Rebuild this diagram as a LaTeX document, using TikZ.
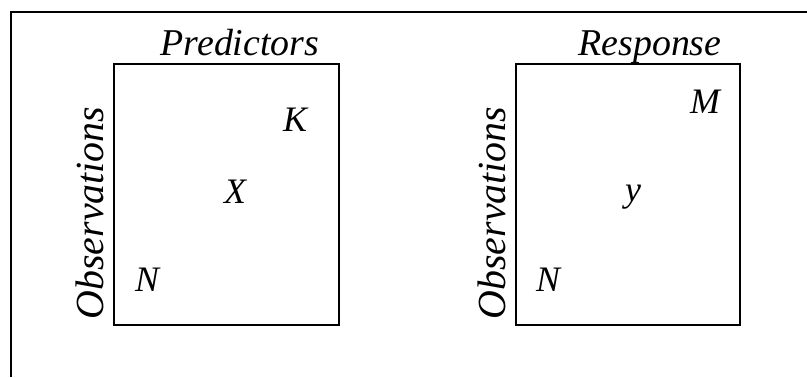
\documentclass[tikz,border=0pt]{standalone}
\usepackage{fontspec}
\setmainfont{Liberation Serif}
\tikzset{
  lbl/.style={font=\fontsize{36}{40}\selectfont\itshape, inner sep=0pt},
  ttl/.style={font=\fontsize{38}{42}\selectfont\itshape, inner sep=0pt, anchor=base},
  side/.style={font=\fontsize{40}{44}\selectfont\itshape, inner sep=0pt, rotate=90},
  mat/.style={line width=2.4pt},
  frame/.style={line width=1.6pt}
}
\begin{document}
\begin{tikzpicture}[x=1bp,y=-1bp]
            \useasboundingbox (0,0) rectangle (807,377);
            % outer frame, open at bottom and right
            \draw [frame] (11,377) -- (11,12) -- (807,12);

            % predictor matrix
            \draw [mat] (114,64) rectangle (339,325);
            \node[ttl] (P) at (240,55) {Predictors};
            \node[side] (O1) at (90,213) {Observations};
            \node[lbl] (K) at (295,120) {K};
            \node[lbl] (X) at (235,192) {X};
            \node[lbl] (N1) at (147,280) {N};

            % response matrix
            \draw [mat] (516,64) rectangle (740,325);
            \node[ttl] (R) at (650,55) {Response};
            \node[side] (O2) at (492,213) {Observations};
            \node[lbl] (M) at (705,102) {M};
            \node[lbl] (Y) at (633,197) {y};
            \node[lbl] (N2) at (548,280) {N};
        \end{tikzpicture}
\end{document}
